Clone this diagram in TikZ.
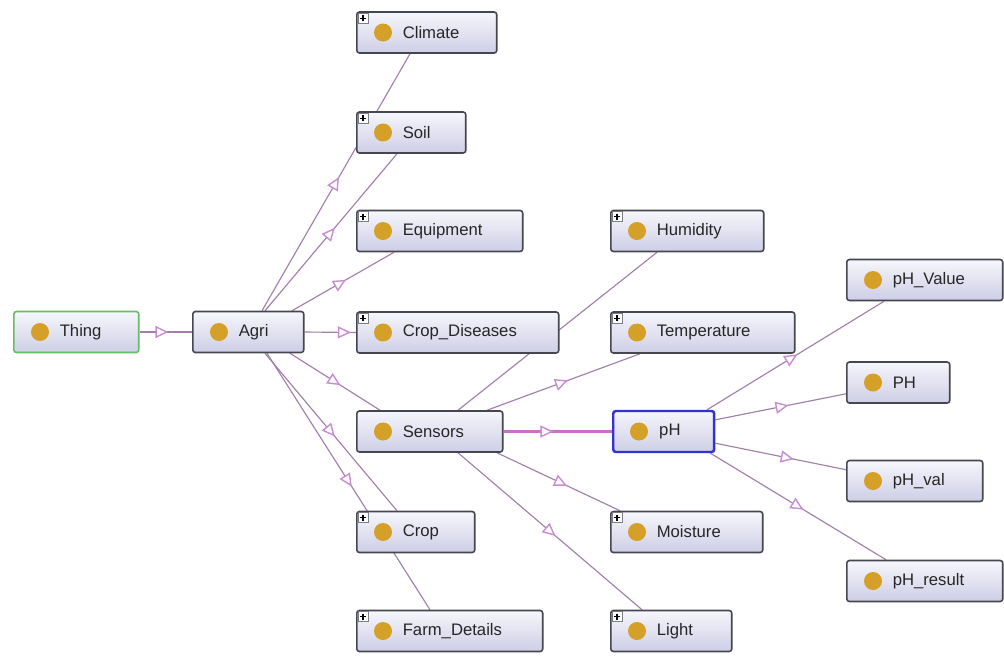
\documentclass[tikz,border=0pt]{standalone}
\usepackage{fontspec}
\setmainfont{Liberation Sans}
\usetikzlibrary{arrows.meta,calc,decorations.markings,backgrounds}

\definecolor{edgecol}{RGB}{160,128,168}
\definecolor{tipcol}{RGB}{200,140,210}
\definecolor{strongcol}{RGB}{205,110,205}
\definecolor{nodetop}{RGB}{246,246,252}
\definecolor{nodebot}{RGB}{206,206,230}
\definecolor{framecol}{RGB}{70,70,80}
\definecolor{dotcol}{RGB}{212,160,40}
\definecolor{thingcol}{RGB}{100,190,100}
\definecolor{phcol}{RGB}{50,50,210}

\begin{document}
\begin{tikzpicture}[x=0.02cm, y=-0.02cm,
  cls/.style={rectangle, rounded corners=1.5pt, draw=framecol, line width=0.9pt,
    top color=nodetop, bottom color=nodebot, anchor=west, inner xsep=0pt, inner ysep=0pt,
    minimum height=0.82cm, text width=#1, align=left,
    font=\fontsize{9.5}{11}\selectfont, text=black!85,
    execute at begin node=\hspace*{0.92cm}},
  isa/.style={draw=edgecol, line width=0.65pt, postaction={decorate},
    decoration={markings, mark=at position #1 with
      {\arrow[tipcol]{Triangle[length=0.26cm, width=0.24cm, fill=white, line width=0.8pt]}}}},
]
\useasboundingbox (0,0) rectangle (1004,657);

% classes
\node[cls=2.5cm, draw=thingcol] (thing) at (13,332) {Thing};
\node[cls=2.22cm] (agri) at (192,332) {Agri};
\node[cls=2.8cm] (climate) at (356,32.5) {Climate};
\node[cls=2.18cm] (soil) at (356,132.5) {Soil};
\node[cls=3.32cm] (equip) at (356,231) {Equipment};
\node[cls=4.04cm] (cropdis) at (356,332.5) {Crop\_Diseases};
\node[cls=2.92cm] (sensors) at (356,431.5) {Sensors};
\node[cls=2.36cm] (crop) at (356,532) {Crop};
\node[cls=3.72cm] (farm) at (356,631) {Farm\_Details};
\node[cls=3.06cm] (humid) at (610,231) {Humidity};
\node[cls=3.68cm] (temp) at (610,332.5) {Temperature};
\node[cls=2.02cm, draw=phcol, line width=1.4pt] (ph) at (612,431.5) {pH};
\node[cls=3.04cm] (moist) at (610,532) {Moisture};
\node[cls=2.42cm] (light) at (610,631) {Light};
\node[cls=3.12cm] (phvalue) at (846,280) {pH\_Value};
\node[cls=2.06cm] (PH) at (846,382.5) {PH};
\node[cls=2.72cm] (phval) at (846,481) {pH\_val};
\node[cls=3.12cm] (phres) at (846,581) {pH\_result};

% subclass links
\begin{scope}[on background layer]
\draw[isa=0.55] (thing.east) -- (agri.west);
\draw[isa=0.52] ($(agri.north west)+(70,0)$) -- ($(climate.south west)+(54,0)$);
\draw[isa=0.53] ($(agri.north west)+(73,0)$) -- ($(soil.south west)+(41,0)$);
\draw[isa=0.53] ($(agri.north west)+(100,0)$) -- ($(equip.south west)+(38,0)$);
\draw[isa=0.9] (agri.east) -- (cropdis.west);
\draw[isa=0.56] ($(agri.south west)+(98,0)$) -- ($(sensors.north west)+(24,0)$);
\draw[isa=0.53] ($(agri.south west)+(73,0)$) -- ($(crop.north west)+(41,0)$);
\draw[isa=0.52] ($(agri.south west)+(75,0)$) -- ($(farm.north west)+(74,0)$);
\draw[isa=0.5] ($(sensors.north west)+(102,0)$) -- ($(humid.south west)+(47,0)$);
\draw[isa=0.53] ($(sensors.north west)+(131,0)$) -- ($(temp.south west)+(30,0)$);
\draw[isa=0.46, draw=strongcol, line width=1.8pt] (sensors.east) -- (ph.west);
\draw[isa=0.57] ($(sensors.south west)+(141,0)$) -- ($(moist.north west)+(10,0)$);
\draw[isa=0.53] ($(sensors.south west)+(102,0)$) -- ($(light.north west)+(32,0)$);
\draw[isa=0.51] ($(ph.north west)+(95,0)$) -- ($(phvalue.south west)+(38,0)$);
\draw[isa=0.56] ($(ph.north east)+(0,10)$) -- ($(PH.south west)+(0,-10)$);
\draw[isa=0.6] ($(ph.south east)+(0,-10)$) -- ($(phval.north west)+(0,10)$);
\draw[isa=0.53] ($(ph.south east)+(-5,0)$) -- ($(phres.north west)+(40,0)$);
\end{scope}

% class dots and expand marks
\foreach \n in {thing,agri,climate,soil,equip,cropdis,sensors,crop,farm,
                humid,temp,ph,moist,light,phvalue,PH,phval,phres}
  \fill[dotcol] ($(\n.west)+(27,0)$) circle (0.18cm);
\foreach \n in {climate,soil,equip,cropdis,humid,temp,crop,farm,moist,light}{
  \draw[framecol!70, fill=white, line width=0.4pt] ($(\n.north west)+(2,2)$) rectangle ($(\n.north west)+(12,12)$);
  \draw[black, line width=0.6pt] ($(\n.north west)+(4,7)$) -- ($(\n.north west)+(10,7)$)
    ($(\n.north west)+(7,4)$) -- ($(\n.north west)+(7,10)$);
}
\end{tikzpicture}
\end{document}
